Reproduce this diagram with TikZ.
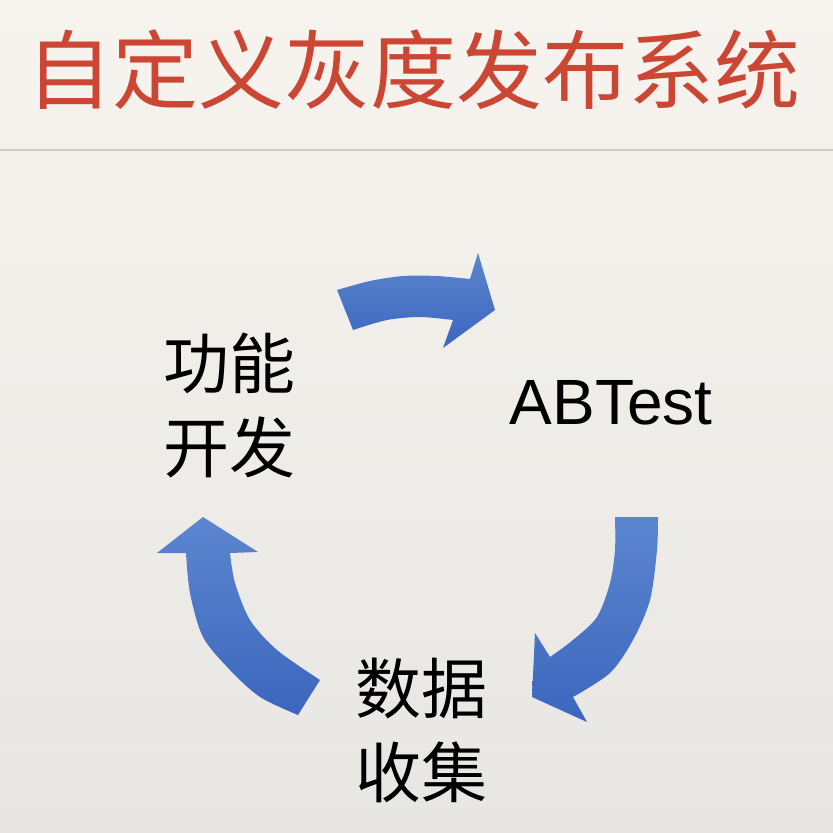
\documentclass[tikz,border=0pt]{standalone}
\usepackage{fontspec}
\newfontfamily\cjk{Noto Sans CJK SC}
\newfontfamily\latinsans{Liberation Sans}
\definecolor{paperTop}{HTML}{F7F4EF}
\definecolor{paperBottom}{HTML}{E8E6E3}
\definecolor{titleRed}{HTML}{CC4634}
\definecolor{ruleGray}{HTML}{CFCBC5}
\definecolor{arrowLight}{HTML}{5C86CF}
\definecolor{arrowDark}{HTML}{3B66BE}
\tikzset{
  cyclearrow/.style={top color=arrowLight, bottom color=arrowDark, draw=none},
  steplabel/.style={font=\cjk\fontsize{66}{84}\selectfont, text=black, align=center, inner sep=0pt},
}
\begin{document}
\begin{tikzpicture}[x=1pt,y=-1pt]
  % paper background
  \shade[top color=paperTop, bottom color=paperBottom] (0,0) rectangle (833,833);
  \useasboundingbox (0,0) rectangle (833,833);

  % heading and rule
  \node[font=\cjk\fontsize{86}{90}\selectfont, text=titleRed, inner sep=0pt] (title) at (414,70) {自定义灰度发布系统};
  \coordinate (ruleL) at (0,150);
  \coordinate (ruleR) at (833,150);
  \draw[ruleGray, line width=1.2pt] (ruleL) -- (ruleR);

  % cycle labels
  \node[steplabel] (dev) at (229,405) {功能\\开发};
  \node[font=\latinsans\fontsize{64}{70}\selectfont, inner sep=0pt] (ab) at (611,403) {ABTest};
  \node[steplabel] (data) at (421,730) {数据\\收集};

  % curved arrow: development -> ABTest
  \path[cyclearrow]
    plot[smooth] coordinates {(337,290) (370,281) (403,276) (437,276) (470,279)}
    -- (478,253) -- (495,310) -- (443,348) -- (453,320)
    -- plot[smooth] coordinates {(453,320) (420,317) (387,320) (353,330)}
    -- cycle;

  % curved arrow: ABTest -> data collection
  \path[cyclearrow]
    (615,517) -- (658,517)
    -- plot[smooth] coordinates {(658,517) (657,550) (650,600) (633,640) (610,673) (573,697)}
    -- (587,722) -- (532,697) -- (535,633) -- (550,657)
    -- plot[smooth] coordinates {(550,657) (573,640) (597,617) (610,583) (615,550) (615,517)}
    -- cycle;

  % curved arrow: data collection -> development
  \path[cyclearrow]
    (298,715) -- (320,680)
    -- plot[smooth] coordinates {(320,680) (277,650) (250,620) (235,583) (230,553)}
    -- (258,552) -- (203,517) -- (157,553) -- (186,553)
    -- plot[smooth] coordinates {(186,553) (190,593) (203,637) (230,670) (260,697) (298,715)}
    -- cycle;
\end{tikzpicture}
\end{document}
